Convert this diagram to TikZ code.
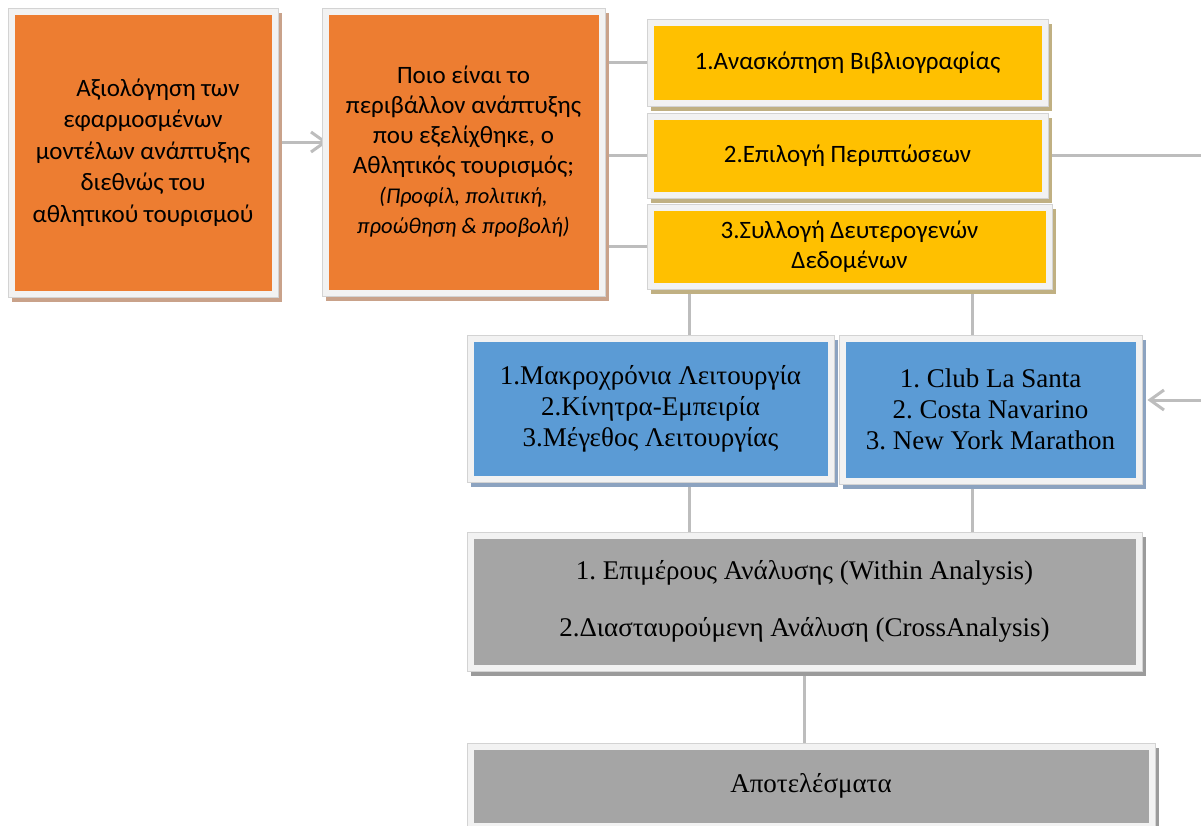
\documentclass[tikz,border=0pt]{standalone}
\usepackage{fontspec}
\setmainfont{Liberation Serif}
\newfontfamily\calibri{Carlito}
\usetikzlibrary{shadows,arrows.meta,backgrounds}
\frenchspacing

% box and link colours
\definecolor{boxorange}{HTML}{ED7D31}
\definecolor{boxyellow}{HTML}{FFC000}
\definecolor{boxblue}{HTML}{5B9BD5}
\definecolor{boxgray}{HTML}{A5A5A5}
\definecolor{framefill}{HTML}{F2F2F2}
\definecolor{frameline}{HTML}{D3D3D3}
\definecolor{shorange}{RGB}{201,162,138}
\definecolor{shyellow}{RGB}{192,176,130}
\definecolor{shblue}{RGB}{140,163,192}
\definecolor{shgray}{RGB}{155,155,155}
\definecolor{linkgray}{HTML}{BDBDBD}

% smaller italic line inside the question box
\newcommand{\noteline}[1]{{\itshape\fontsize{22.5}{30}\selectfont #1}}

\tikzset{
  panel/.style 2 args={
    fill=framefill, draw=frameline, line width=0.8pt,
    drop shadow={shadow xshift=3.5pt, shadow yshift=-4.5pt, fill=#2, opacity=1},
    path picture={\fill[#1]
      ([shift={(6.5pt,6.5pt)}]path picture bounding box.south west) rectangle
      ([shift={(-6.5pt,-6.5pt)}]path picture bounding box.north east);},
    inner sep=0pt, align=center, text=black},
  orangebox/.style={panel={boxorange}{shorange}, font=\calibri\fontsize{25}{31.5}\selectfont},
  yellowbox/.style={panel={boxyellow}{shyellow}, font=\calibri\fontsize{25}{30}\selectfont},
  bluebox/.style={panel={boxblue}{shblue}, font=\fontsize{27}{31}\selectfont},
  graybox/.style={panel={boxgray}{shgray}, font=\fontsize{27}{30}\selectfont},
  link/.style={draw=linkgray, line width=3pt},
  linkarrow/.style={link, -{Straight Barb[length=14pt, width=20pt]}},
}

\begin{document}
\begin{tikzpicture}[x=1pt, y=-1pt]
\useasboundingbox (0,0) rectangle (1201,825);

% left column: the two orange question boxes
\node[orangebox, minimum width=270pt, minimum height=289pt] (q1) at (143,152.5)
  {\hspace*{30pt}Αξιολόγηση των\\εφαρμοσμένων\\μοντέλων ανάπτυξης\\διεθνώς του\\αθλητικού τουρισμού};
\node[orangebox, minimum width=283pt, minimum height=288pt,
      font=\calibri\fontsize{25}{30}\selectfont] (q2) at (463.5,152)
  {Ποιο είναι το\\περιβάλλον ανάπτυξης\\που εξελίχθηκε, ο\\Αθλητικός τουρισμός;\\
   \noteline{(Προφίλ, πολιτική,}\\\noteline{προώθηση \& προβολή)}};

% method steps
\node[yellowbox, minimum width=401pt, minimum height=87pt] (s1) at (847.5,62.5)
  {1.Ανασκόπηση Βιβλιογραφίας};
\node[yellowbox, minimum width=401pt, minimum height=85pt] (s2) at (847.5,155.5)
  {2.Επιλογή Περιπτώσεων};
\node[yellowbox, minimum width=405pt, minimum height=85pt] (s3) at (849.5,246.5)
  {3.Συλλογή Δευτερογενών\\Δεδομένων};

% criteria and cases
\node[bluebox, minimum width=367pt, minimum height=147pt] (crit) at (650.5,408.5)
  {1.Μακροχρόνια Λειτουργία\\2.Κίνητρα-Εμπειρία\\3.Μέγεθος Λειτουργίας};
\node[bluebox, minimum width=303pt, minimum height=149pt] (cases) at (990.5,409.5)
  {1. Club La Santa\\2. Costa Navarino\\3. New York Marathon};

% analysis and results
\node[graybox, minimum width=675pt, minimum height=139pt] (anal) at (804.5,601.5)
  {1. Επιμέρους Ανάλυσης (Within Analysis)\\[27pt]2.Διασταυρούμενη Ανάλυση (CrossAnalysis)};
\node[graybox, minimum width=688pt, minimum height=86pt] (res) at (811,786)
  {Αποτελέσματα};

% column positions of the vertical links and the free ends
\coordinate (colA) at (689,0);
\coordinate (colB) at (972,0);
\coordinate (qlevel) at (0,142);
\coordinate (edgeR) at (1201,155.5);
\coordinate (edgeIn) at (1201,400);

\begin{scope}[on background layer]
  \draw[linkarrow, shorten >=-6pt] (q1.east |- qlevel) -- (q2.west |- qlevel);
  \draw[link] (q2.east |- s1.west) -- (s1.west);
  \draw[link] (q2.east |- s2.west) -- (s2.west);
  \draw[link] (q2.east |- s3.west) -- (s3.west);
  \draw[link] (s2.east) -- (edgeR);
  \draw[link] (s3.south -| colA) -- (crit.north -| colA);
  \draw[link] (s3.south -| colB) -- (cases.north -| colB);
  \draw[link] (crit.south -| colA) -- (anal.north -| colA);
  \draw[link] (cases.south -| colB) -- (anal.north -| colB);
  \draw[link] (anal.south) -- (anal.south |- res.north);
  \draw[linkarrow, shorten >=5pt] (edgeIn) -- (cases.east |- edgeIn);
\end{scope}
\end{tikzpicture}
\end{document}
